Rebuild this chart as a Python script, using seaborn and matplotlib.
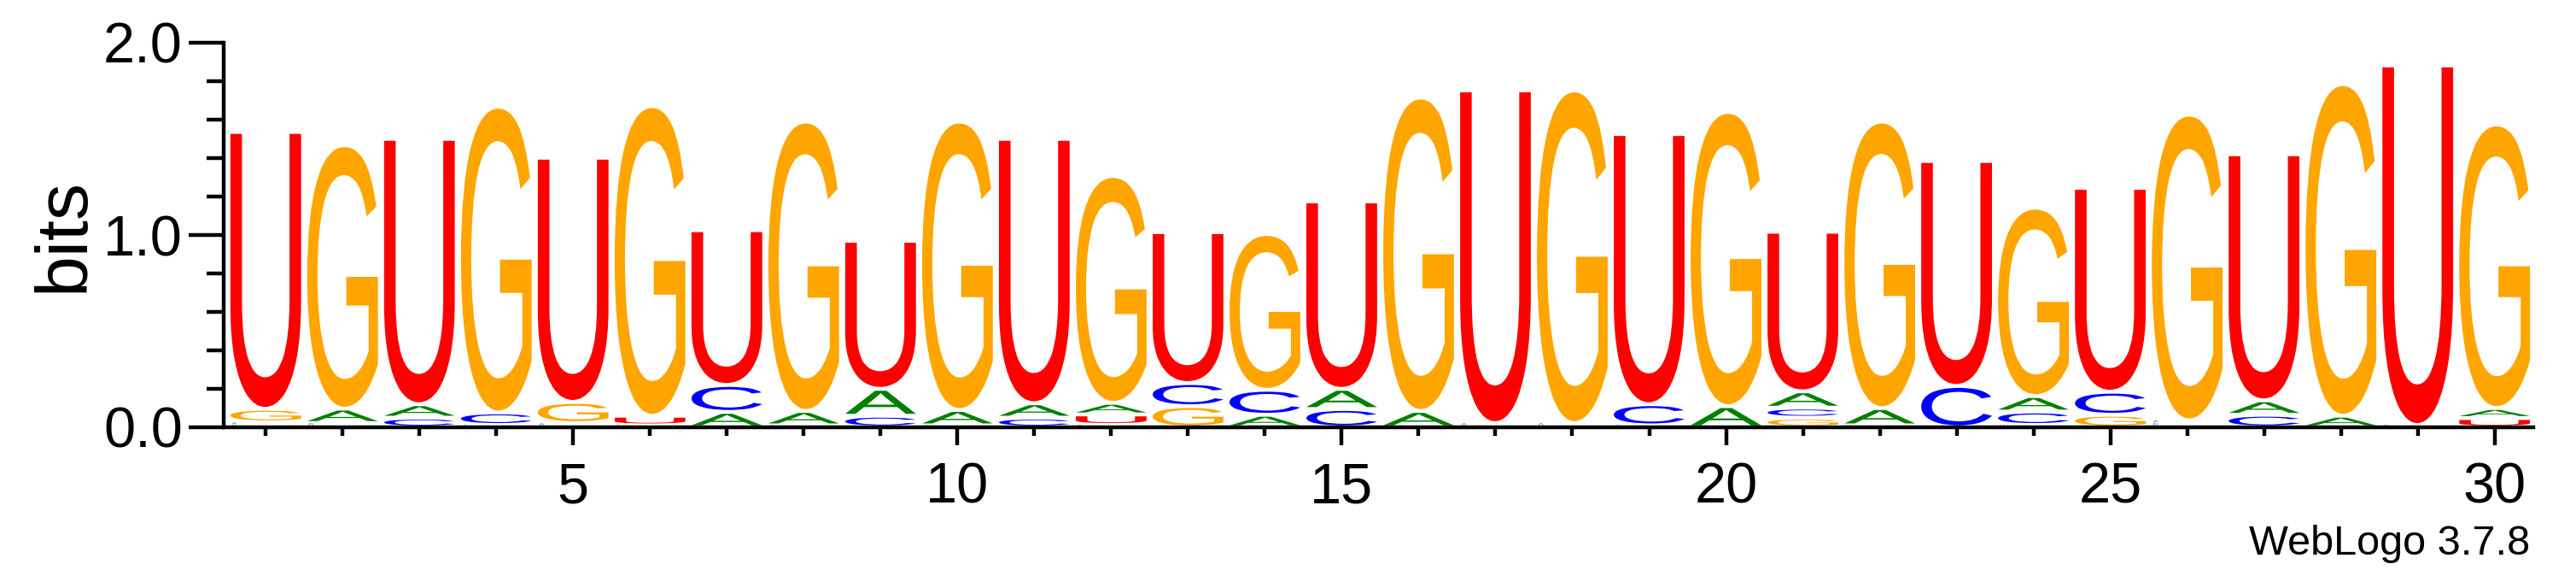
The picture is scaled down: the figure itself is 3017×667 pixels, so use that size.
import numpy as np
import pandas as pd
import matplotlib
matplotlib.use('Agg')
import matplotlib.pyplot as plt
import matplotlib.transforms as mtransforms
from matplotlib.textpath import TextPath
from matplotlib.patches import PathPatch
from matplotlib.font_manager import FontProperties
from matplotlib.ticker import FormatStrFormatter
import seaborn as sns

posiciones = list(range(1, 31))
bits_A = [0.014, 0.075, 0.07, 0.012, 0.012, 0.01, 0.08, 0.075, 0.14, 0.08,
          0.075, 0.06, 0.0, 0.065, 0.105, 0.085, 0.012, 0.012, 0.01, 0.11,
          0.085, 0.09, 0.0, 0.08, 0.0, 0.014, 0.075, 0.06, 0.0, 0.052]
bits_C = [0.012, 0.012, 0.05, 0.065, 0.01, 0.0, 0.14, 0.01, 0.06, 0.01,
          0.05, 0.012, 0.12, 0.13, 0.095, 0.0, 0.01, 0.0, 0.11, 0.0,
          0.052, 0.0, 0.215, 0.07, 0.12, 0.012, 0.065, 0.0, 0.012, 0.0]
bits_G = [0.07, 1.37, 0.0, 1.59, 0.11, 1.61, 0.0, 1.505, 0.0, 1.50,
          0.0, 1.18, 0.11, 0.81, 0.0, 1.63, 0.0, 1.73, 0.0, 1.53,
          0.05, 1.49, 0.0, 0.98, 0.065, 1.59, 0.0, 1.725, 0.0, 1.475]
bits_U = [1.44, 0.01, 1.38, 0.0, 1.27, 0.05, 0.805, 0.0, 0.77, 0.0,
          1.375, 0.055, 0.785, 0.0, 0.975, 0.0, 1.73, 0.01, 1.405, 0.0,
          0.83, 0.01, 1.17, 0.012, 1.06, 0.01, 1.28, 0.0, 1.87, 0.048]

colores = {'A': '#008000', 'C': '#0000FF', 'G': '#FFA500', 'U': '#FF0000'}

df = pd.DataFrame({'A': bits_A, 'C': bits_C, 'G': bits_G, 'U': bits_U},
                  index=posiciones)

sns.set_style("ticks")
plt.rcParams['font.family'] = ['Liberation Sans', 'DejaVu Sans']
plt.rcParams.update({'text.color': 'black', 'axes.labelcolor': 'black',
                     'axes.edgecolor': 'black', 'xtick.color': 'black',
                     'ytick.color': 'black'})

fig = plt.figure(figsize=(30.17, 6.67), dpi=100)
ax = fig.add_axes([261.7 / 3017, 167 / 667, 2705 / 3017, 450 / 667])

fp = FontProperties(family='Liberation Sans')
glifos = {}
for letra in 'ACGU':
    tp = TextPath((0, 0), letra, size=1, prop=fp)
    glifos[letra] = (tp, tp.get_extents())


def dibujar_letra(letra, x0, y0, w, h):
    tp, bb = glifos[letra]
    t = (mtransforms.Affine2D()
         .translate(-bb.x0, -bb.y0)
         .scale(w / bb.width, h / bb.height)
         .translate(x0, y0))
    ax.add_patch(PathPatch(tp, transform=t + ax.transData,
                           facecolor=colores[letra], edgecolor='none', lw=0))


ancho = 0.92
pad = 0.01
for pos, fila in df.iterrows():
    orden = fila.sort_values(kind='stable')
    y = 0.0
    for letra, h in orden.items():
        if h <= 0:
            continue
        x0 = pos - ancho / 2
        if h < 0.02:
            # letras diminutas: se ven pequeñas, pegadas a la izquierda
            dibujar_letra(letra, x0 + 0.02, y + 0.004, 0.06, max(h - 0.004, 0.008))
        else:
            dibujar_letra(letra, x0, y + pad, ancho, h - 2 * pad)
        y += h

ax.set_xlim(0.45, 30.5)
ax.set_ylim(0, 2)
sns.despine(ax=ax)

ax.set_xticks(range(5, 31, 5))
ax.set_xticks(posiciones, minor=True)
ax.set_yticks([0, 1, 2])
ax.set_yticks(np.arange(0, 2.01, 0.2), minor=True)
ax.yaxis.set_major_formatter(FormatStrFormatter('%.1f'))

lw = 3.2
for s in ['left', 'bottom']:
    ax.spines[s].set_linewidth(lw)
    ax.spines[s].set_color('black')
ax.tick_params(axis='x', which='major', length=15, width=lw, labelsize=48, pad=14)
ax.tick_params(axis='x', which='minor', length=7, width=lw)
ax.tick_params(axis='y', which='major', length=29.5, width=lw, labelsize=48, pad=5)
ax.tick_params(axis='y', which='minor', length=14.7, width=lw)
ax.tick_params(which='both', colors='black')

ax.set_ylabel('bits', fontsize=62, color='black')
ax.yaxis.set_label_coords(-0.054, 0.5)

fig.text(2963 / 3017, 18.3 / 667, 'WebLogo 3.7.8', ha='right', va='baseline',
         fontsize=35, color='black')

plt.savefig('out.png', dpi=100)
